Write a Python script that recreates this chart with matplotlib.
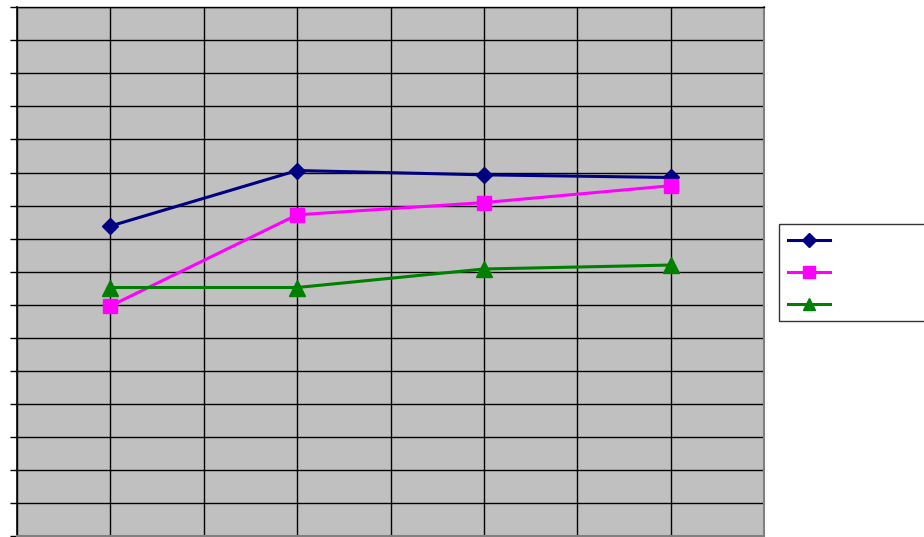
import matplotlib
matplotlib.use("Agg")
import matplotlib.pyplot as plt
from matplotlib.lines import Line2D

# Data
x_positions = [1, 3, 5, 7]
series_blue = [9.38, 11.06, 10.93, 10.85]
series_magenta = [6.96, 9.72, 10.09, 10.60]
series_green = [7.52, 7.52, 8.08, 8.20]

W, H = 924, 537
fig = plt.figure(figsize=(W / 100, H / 100), dpi=100)
fig.patch.set_facecolor("white")

left, right, top, bottom = 17, 764, 7.3, 536
ax = fig.add_axes([left / W, (H - bottom) / H, (right - left) / W, (bottom - top) / H])
ax.set_facecolor("#C0C0C0")

ax.set_xlim(0, 8)
ax.set_ylim(0, 16)
ax.set_xticks(range(0, 9))
ax.set_yticks(range(0, 17))
ax.grid(True, color="black", linewidth=1.0)
ax.set_axisbelow(True)
ax.tick_params(axis="y", direction="out", length=5, width=1, color="black",
               labelleft=False)
ax.tick_params(axis="x", length=0, labelbottom=False)

for side in ("top", "right", "bottom"):
    ax.spines[side].set_color("#808080")
    ax.spines[side].set_linewidth(1.5)
ax.spines["top"].set_color("black")
ax.spines["top"].set_linewidth(1.0)
ax.spines["left"].set_color("black")
ax.spines["left"].set_linewidth(1.2)

styles = [
    (series_blue, "#000080", "D", 8.5),
    (series_magenta, "#FF00FF", "s", 10),
    (series_green, "#008000", "^", 11),
]
handles = []
for vals, color, marker, ms in styles:
    ax.plot(x_positions, vals, color=color, linewidth=2.2, marker=marker,
            markersize=ms, markerfacecolor=color, markeredgecolor=color,
            clip_on=False, zorder=3)
    handles.append(Line2D([], [], color=color, linewidth=2.2, marker=marker,
                          markersize=ms * 0.85, markerfacecolor=color,
                          markeredgecolor=color))

leg = fig.legend(handles, ["", "", ""], loc="upper left",
                 bbox_to_anchor=(779 / W, (H - 224) / H),
                 borderaxespad=0,
                 frameon=True, fancybox=False, handlelength=3.0,
                 handletextpad=12, labelspacing=1.3, borderpad=0.68,
                 fontsize=10)
leg.get_frame().set_edgecolor("black")
leg.get_frame().set_linewidth(1.0)

fig.savefig("out.png", dpi=100)
